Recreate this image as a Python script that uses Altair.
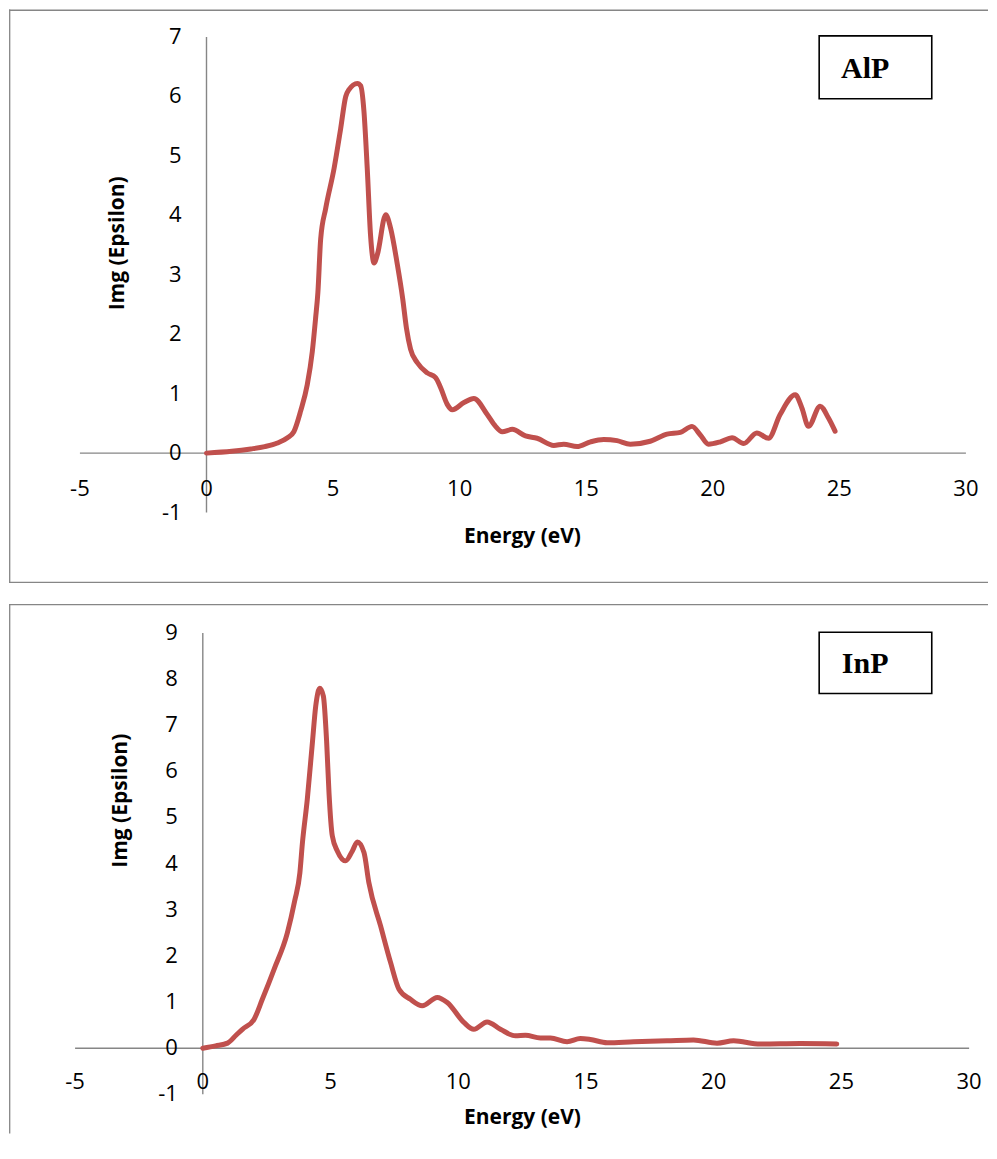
import altair as alt
import pandas as pd

# ---------------- data ----------------
ALP_E = [0, 1.0, 1.75, 2.3, 2.8, 3.2, 3.45, 3.72, 3.98, 4.18, 4.31, 4.4, 4.51, 4.71, 5.04,
         5.30, 5.50, 5.62, 5.96, 6.09, 6.22, 6.35, 6.48, 6.62, 6.75, 7.08, 7.27, 7.54,
         7.75, 7.9, 8.06, 8.33, 8.72, 9.05, 9.25, 9.51, 9.71, 10.17, 10.56, 11.09, 11.42,
         11.68, 12.08, 12.6, 13.06, 13.72, 14.11, 14.64, 15.17, 15.69, 16.22, 16.74,
         17.53, 18.19, 18.72, 19.18, 19.5, 19.83, 20.3, 20.76, 21.22, 21.74, 22.2, 22.66,
         23.26, 23.52, 23.78, 24.24, 24.57, 24.83]
ALP_IMG = [0, 0.03, 0.07, 0.11, 0.17, 0.26, 0.36, 0.71, 1.15, 1.71, 2.27, 2.7, 3.6, 4.12, 4.79,
           5.46, 6.0, 6.11, 6.22, 6.18, 5.75, 4.79, 3.67, 3.2, 3.34, 4.01, 3.79, 3.17,
           2.6, 2.1, 1.75, 1.52, 1.35, 1.27, 1.10, 0.82, 0.73, 0.85, 0.92, 0.65, 0.45,
           0.36, 0.40, 0.29, 0.25, 0.13, 0.15, 0.11, 0.19, 0.23, 0.21, 0.15,
           0.2, 0.32, 0.35, 0.45, 0.31, 0.15, 0.19, 0.26, 0.16, 0.34, 0.25, 0.65,
           0.98, 0.76, 0.45, 0.79, 0.59, 0.37]

INP_E = [0, 0.5, 0.97, 1.3, 1.55, 2.01, 2.33, 2.79, 3.31, 3.6, 3.8, 3.9, 4.09, 4.29, 4.42,
         4.58, 4.72, 4.85, 4.94, 5.07, 5.27, 5.59, 5.85, 6.05, 6.31, 6.5, 6.96, 7.35,
         7.68, 8.13, 8.59, 9.18, 9.57, 10.22, 10.61, 11.13, 11.65, 12.24, 12.63, 13.22,
         13.61, 14.26, 14.78, 15.17, 15.83, 16.87, 18.17, 19.21, 20.13, 20.78, 21.82,
         23.39, 24.82]
INP_IMG = [0, 0.05, 0.11, 0.28, 0.41, 0.63, 1.06, 1.71, 2.5, 3.2, 3.8, 4.45, 5.39, 6.62, 7.41,
           7.8, 7.63, 6.62, 5.54, 4.6, 4.27, 4.06, 4.27, 4.47, 4.24, 3.59, 2.65, 1.86,
           1.28, 1.06, 0.92, 1.1, 0.99, 0.56, 0.41, 0.57, 0.41, 0.27, 0.28, 0.22,
           0.22, 0.14, 0.21, 0.19, 0.12, 0.14, 0.16, 0.18, 0.11, 0.16, 0.09,
           0.1, 0.09]

X_TICKS = [-5, 0, 5, 10, 15, 20, 25, 30]
Y_TICKS_ALP = [-1, 0, 1, 2, 3, 4, 5, 6, 7]
Y_TICKS_INP = [-1, 0, 1, 2, 3, 4, 5, 6, 7, 8, 9]

X_TITLE = "Energy (eV)"
Y_TITLE = "Img (Epsilon)"

LINE_COLOR = "#C0504D"
AXIS_COLOR = "#868686"
FONT = "Open Sans"
W = 980


def panel(E, V, yticks, label, H, x0, xs, y0, ys, xlab_dy,
          box, label_xy, xtitle_xy, ytitle_xy, bottom_border):
    xdom = [-x0 / xs, (W - x0) / xs]
    ydom = [(y0 - H) / ys, y0 / ys]

    def X(f):
        return alt.X(f, type="quantitative", axis=None,
                     scale=alt.Scale(domain=xdom, nice=False, zero=False))

    def Y(f):
        return alt.Y(f, type="quantitative", axis=None,
                     scale=alt.Scale(domain=ydom, nice=False, zero=False))

    one = pd.DataFrame({"k": [0]})

    layers = []
    # panel border
    layers.append(alt.Chart(one).mark_rule(color=AXIS_COLOR, strokeWidth=1.3).encode(
        x=alt.value(0.7), y=alt.value(0), y2=alt.value(H)))
    layers.append(alt.Chart(one).mark_rule(color=AXIS_COLOR, strokeWidth=1.3).encode(
        y=alt.value(0.7), x=alt.value(0), x2=alt.value(W)))
    if bottom_border:
        layers.append(alt.Chart(one).mark_rule(color=AXIS_COLOR, strokeWidth=1.3).encode(
            y=alt.value(H - 0.7), x=alt.value(0), x2=alt.value(W)))

    # axes crossing at zero
    ax = pd.DataFrame({"a": [X_TICKS[0], 0], "a2": [X_TICKS[-1], 0],
                       "b": [0, yticks[0]], "b2": [0, yticks[-1]]})
    layers.append(alt.Chart(ax).mark_rule(color=AXIS_COLOR, strokeWidth=1.4).encode(
        x=X("a"), x2="a2", y=Y("b"), y2="b2"))

    # tick labels
    xt = pd.DataFrame({"t": X_TICKS, "z": [0] * len(X_TICKS),
                       "lab": [str(v) for v in X_TICKS]})
    layers.append(alt.Chart(xt).mark_text(
        dy=xlab_dy, baseline="middle", align="center", fontSize=22, font=FONT,
        color="black").encode(x=X("t"), y=Y("z"), text="lab:N"))
    yt = pd.DataFrame({"t": yticks, "z": [0] * len(yticks),
                       "lab": [str(v) for v in yticks]})
    layers.append(alt.Chart(yt).mark_text(
        dx=-25, baseline="middle", align="right", fontSize=22, font=FONT,
        color="black").encode(x=X("z"), y=Y("t"), text="lab:N"))

    # curve
    df = pd.DataFrame({"E": E, "V": V})
    layers.append(alt.Chart(df).mark_line(
        color=LINE_COLOR, strokeWidth=5, interpolate="monotone",
        strokeCap="round", strokeJoin="round").encode(x=X("E"), y=Y("V")))

    # axis titles
    layers.append(alt.Chart(pd.DataFrame({"s": [X_TITLE]})).mark_text(
        font=FONT, fontSize=21, fontWeight="bold", color="black",
        align="center", baseline="alphabetic").encode(
        x=alt.value(xtitle_xy[0]), y=alt.value(xtitle_xy[1]), text="s:N"))
    layers.append(alt.Chart(pd.DataFrame({"s": [Y_TITLE]})).mark_text(
        font=FONT, fontSize=21, fontWeight="bold", color="black", angle=270,
        align="center", baseline="middle").encode(
        x=alt.value(ytitle_xy[0]), y=alt.value(ytitle_xy[1]), text="s:N"))

    # label box
    layers.append(alt.Chart(one).mark_rect(
        fill="white", stroke="black", strokeWidth=1.6).encode(
        x=alt.value(box[0]), x2=alt.value(box[1]),
        y=alt.value(box[2]), y2=alt.value(box[3])))
    layers.append(alt.Chart(pd.DataFrame({"s": [label]})).mark_text(
        font="Liberation Serif", fontSize=30, fontWeight="bold", color="black",
        align="center", baseline="alphabetic").encode(
        x=alt.value(label_xy[0]), y=alt.value(label_xy[1]), text="s:N"))

    return alt.layer(*layers).properties(width=W, height=H)


top = panel(ALP_E, ALP_IMG, Y_TICKS_ALP, "AlP", H=574,
            x0=197.7, xs=25.34, y0=444.0, ys=59.5, xlab_dy=36,
            box=(811, 923.7, 26.3, 89.3), label_xy=(857, 68),
            xtitle_xy=(514, 533.7), ytitle_xy=(109, 234), bottom_border=True)

bottom = panel(INP_E, INP_IMG, Y_TICKS_INP, "InP", H=530,
               x0=194.0, xs=25.57, y0=444.7, ys=46.19, xlab_dy=34,
               box=(811, 923.7, 28.3, 89.7), label_xy=(857, 69),
               xtitle_xy=(514, 520.7), ytitle_xy=(112, 197), bottom_border=False)

chart = alt.vconcat(top, bottom, spacing=19).properties(
    padding=0, background="white"
).configure_view(stroke=None)

chart.save("out.html", embed_options={"renderer": "svg", "actions": False})
